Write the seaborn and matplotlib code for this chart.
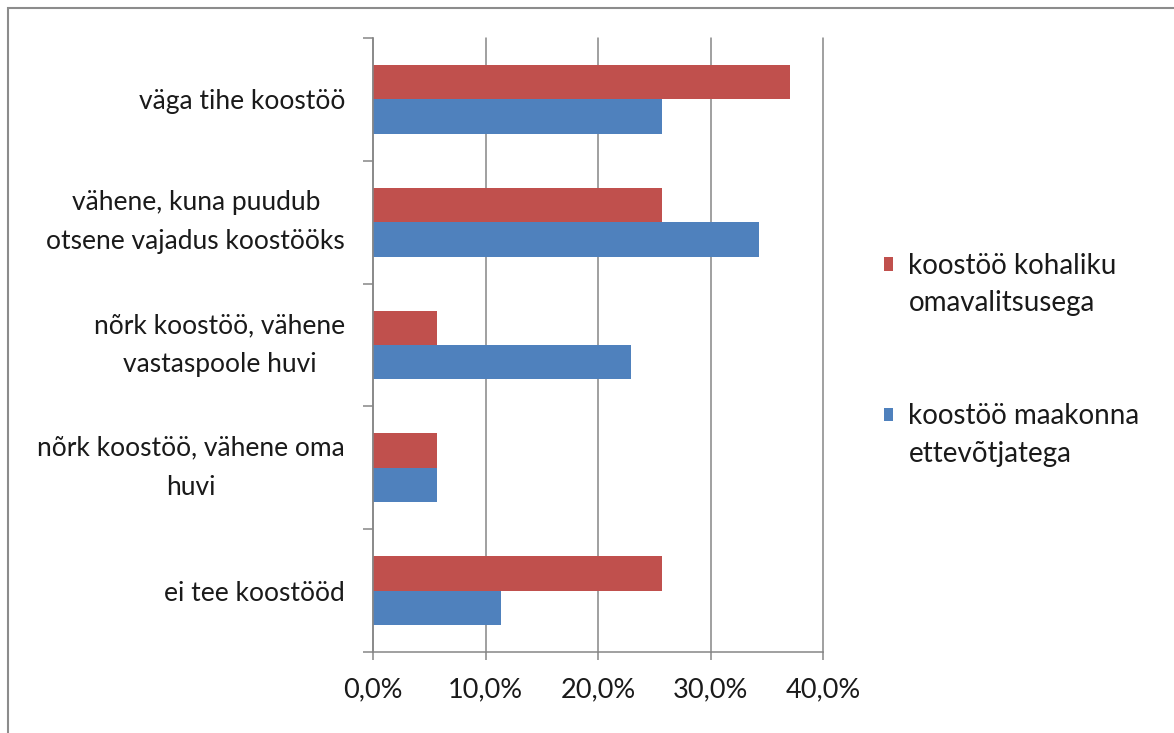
import matplotlib
matplotlib.use("Agg")
import matplotlib.pyplot as plt
import matplotlib.patches as mpatches
from matplotlib.ticker import FuncFormatter, FixedLocator
import seaborn as sns
import pandas as pd

kategooriad = [
    "väga tihe koostöö",
    "vähene, kuna puudub\notsene vajadus koostööks",
    "nõrk koostöö, vähene\nvastaspoole huvi",
    "nõrk koostöö, vähene oma\nhuvi",
    "ei tee koostööd",
]
seeriad = ["koostöö kohaliku omavalitsusega", "koostöö maakonna ettevõtjatega"]
legendi_read = [["koostöö kohaliku", "omavalitsusega"], ["koostöö maakonna", "ettevõtjatega"]]
kohalik = [37.1, 25.7, 5.7, 5.7, 25.7]
maakond = [25.7, 34.3, 22.9, 5.7, 11.4]
varvid = ["#C0504D", "#4F81BD"]

df = pd.DataFrame({
    "kategooria": kategooriad * 2,
    "seeria": [seeriad[0]] * 5 + [seeriad[1]] * 5,
    "protsent": kohalik + maakond,
})

sns.set_style("white")
plt.rcParams["font.family"] = ["Lato", "DejaVu Sans"]

fig = plt.figure(figsize=(11.74, 7.33), dpi=100)
ax = fig.add_axes([373 / 1174, 1 - 652 / 733, 450 / 1174, 614 / 733])

sns.barplot(data=df, y="kategooria", x="protsent", hue="seeria",
            palette=varvid, width=0.56, ax=ax, saturation=1, linewidth=0,
            legend=False)

grid_c = "#868686"
text_c = "#1a1a1a"
ax.set_xlim(0, 40)
ax.set_ylim(4.5, -0.5)
ax.set_xticks([0, 10, 20, 30, 40])
ax.xaxis.set_major_formatter(FuncFormatter(lambda v, p: f"{v:.1f}%".replace(".", ",")))
ax.grid(axis="x", color=grid_c, linewidth=1.1)
for gl in ax.get_xgridlines():
    gl.set_clip_on(False)
ax.set_axisbelow(True)
ax.set_xlabel("")
ax.set_ylabel("")
for s in ["top", "right"]:
    ax.spines[s].set_visible(False)
for s in ["left", "bottom"]:
    ax.spines[s].set_color(grid_c)
    ax.spines[s].set_linewidth(1.1)

ax.tick_params(axis="x", direction="out", length=6, color=grid_c, width=1.1,
               labelsize=19.5, labelcolor=text_c, pad=12, bottom=True)
ax.tick_params(axis="y", which="major", length=0, labelsize=19,
               labelcolor=text_c, pad=20)
ax.yaxis.set_minor_locator(FixedLocator([-0.5, 0.5, 1.5, 2.5, 3.5, 4.5]))
ax.tick_params(axis="y", which="minor", direction="out", length=7,
               color=grid_c, width=1.1, left=True)
for lbl in ax.get_yticklabels():
    lbl.set_horizontalalignment("right")
    lbl.set_multialignment("center")
    if "\n" in lbl.get_text():
        lbl.set_linespacing(1.7)
        lbl.set_verticalalignment("center")

# legend: square beside the first line of each two-line label
tyhi = mpatches.Patch(facecolor="none", edgecolor="none")
handles, labels = [], []
for i, (c, read) in enumerate(zip(varvid, legendi_read)):
    if i > 0:
        handles += [tyhi, tyhi]
        labels += [" ", " "]
    handles += [mpatches.Patch(facecolor=c, edgecolor="none"), tyhi]
    labels += read
ax.legend(handles, labels, loc="center left", bbox_to_anchor=(884 / 1174, 1 - 360 / 733),
          bbox_transform=fig.transFigure, frameon=False, fontsize=20,
          labelspacing=0.42, handlelength=0.33, handleheight=0.36,
          handletextpad=0.55, labelcolor=text_c, borderpad=0, borderaxespad=0)

fig.patches.append(mpatches.Rectangle((8 / 1174, -0.05), 1.2, (733 - 8) / 733 + 0.05,
                                      transform=fig.transFigure, fill=False,
                                      edgecolor="#8c8c8c", linewidth=1.5,
                                      clip_on=False))

fig.savefig("out.png", dpi=100, facecolor="white")
